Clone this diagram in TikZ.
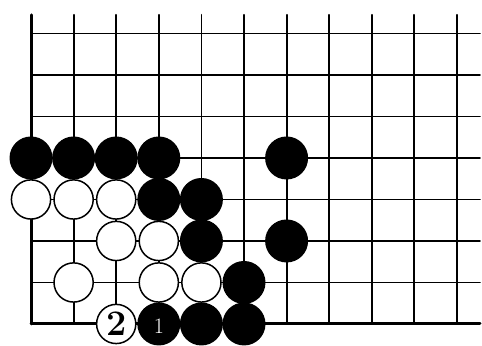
\documentclass[tikz,border=0pt]{standalone}
\begin{document}
\begin{tikzpicture}[x=42.6pt,y=41.5pt,line cap=round,line join=round,
    gridline/.style={line width=1.8pt},
    edgeline/.style={line width=3pt},
    bstone/.style={fill=black},
    wstone/.style={draw=black,line width=1.5pt,fill=white}]
        \useasboundingbox (-0.728,-0.530) rectangle (10.587,7.807);
        % vertical lines
        \draw[edgeline] (0,0) -- (0,7.45);
        \foreach \i in {1,...,10}
            \draw[gridline] (\i,0) -- (\i,7.45);
        % horizontal lines
        \draw[edgeline] (0,0) -- (10.54,0);
        \foreach \j in {1,...,7}
            \draw[gridline] (0,\j) -- (10.54,\j);

        % black stones
        \fill[bstone] (0,4) circle[radius=21.5pt];
        \fill[bstone] (1,4) circle[radius=21.5pt];
        \fill[bstone] (2,4) circle[radius=21.5pt];
        \fill[bstone] (3,4) circle[radius=21.5pt];
        \fill[bstone] (6,4) circle[radius=21.5pt];
        \fill[bstone] (3,3) circle[radius=21.5pt];
        \fill[bstone] (4,3) circle[radius=21.5pt];
        \fill[bstone] (4,2) circle[radius=21.5pt];
        \fill[bstone] (6,2) circle[radius=21.5pt];
        \fill[bstone] (5,1) circle[radius=21.5pt];
        \fill[bstone] (3,0) circle[radius=21.5pt];
        \fill[bstone] (4,0) circle[radius=21.5pt];
        \fill[bstone] (5,0) circle[radius=21.5pt];

        % white stones
        \draw[wstone] (0,3) circle[radius=19.6pt];
        \draw[wstone] (1,3) circle[radius=19.6pt];
        \draw[wstone] (2,3) circle[radius=19.6pt];
        \draw[wstone] (2,2) circle[radius=19.6pt];
        \draw[wstone] (3,2) circle[radius=19.6pt];
        \draw[wstone] (1,1) circle[radius=19.6pt];
        \draw[wstone] (3,1) circle[radius=19.6pt];
        \draw[wstone] (4,1) circle[radius=19.6pt];
        \draw[wstone] (2,0) circle[radius=19.6pt];

        % move numbers
        \node[font=\fontsize{36}{36}\selectfont\bfseries,inner sep=0pt] (two) at (2,0) {2};
        \node[font=\fontsize{22}{22}\selectfont,text=white,inner sep=0pt] (one) at (3,-0.05) {1};
\end{tikzpicture}
\end{document}
